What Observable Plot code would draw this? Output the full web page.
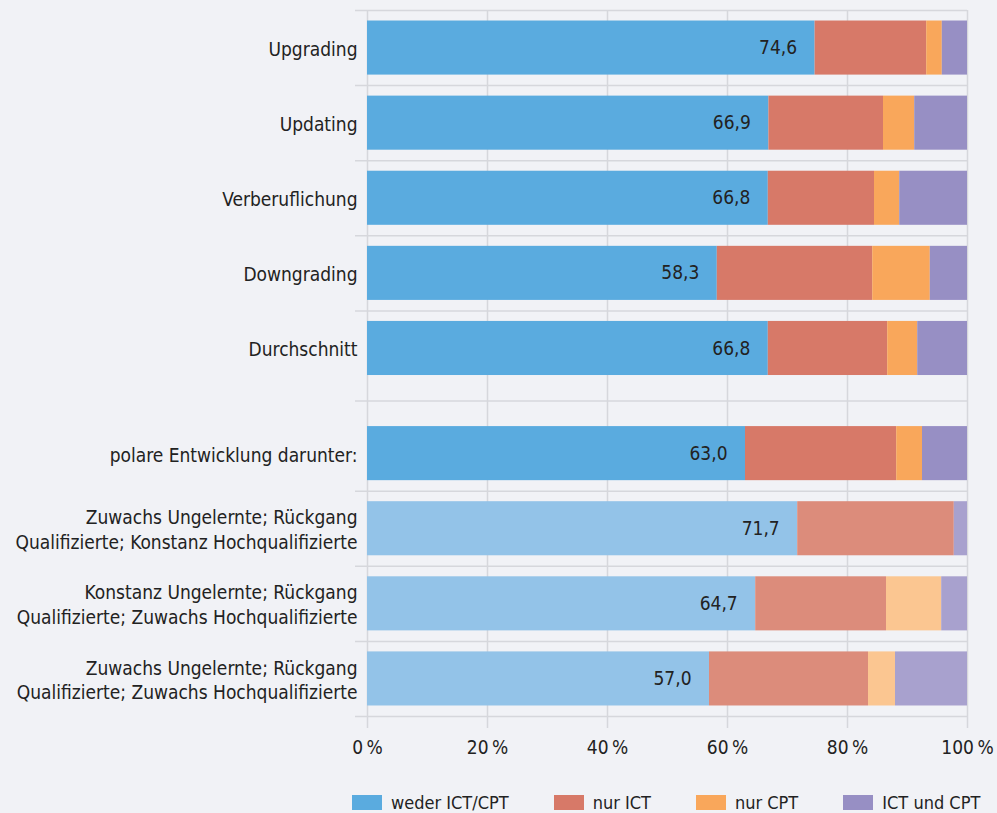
<!DOCTYPE html>
<html><head><meta charset="utf-8">
<script src="https://cdn.jsdelivr.net/npm/d3@7"></script>
<script src="https://cdn.jsdelivr.net/npm/@observablehq/plot@0.6"></script>
<style>
body{margin:0;background:#f1f2f6;}
#legend{margin-left:352px;margin-top:16px;width:645px;white-space:nowrap;}
.lg-swatches{font-family:"Liberation Sans Narrow","DejaVu Sans Condensed","Roboto",sans-serif;font-size:18px;color:#222;flex-wrap:nowrap !important;white-space:nowrap;}
.lg-swatch{margin-right:45px !important;white-space:nowrap;}
.lg-swatch > svg{margin-right:9px !important;}
</style></head><body><div id="chart"></div><div id="legend"></div><script>
const categories = ["Upgrading","Updating","Verberuflichung","Downgrading","Durchschnitt","polare Entwicklung darunter:","Zuwachs Ungelernte; Rückgang\nQualifizierte; Konstanz Hochqualifizierte","Konstanz Ungelernte; Rückgang\nQualifizierte; Zuwachs Hochqualifizierte","Zuwachs Ungelernte; Rückgang\nQualifizierte; Zuwachs Hochqualifizierte"];
const series = ["weder ICT/CPT","nur ICT","nur CPT","ICT und CPT"];
const wederICTCPT = [74.6,66.9,66.8,58.3,66.8,63.0,71.7,64.7,57.0];
const nurICT = [18.6,19.1,17.7,25.9,19.9,25.2,26.1,21.8,26.5];
const nurCPT = [2.6,5.2,4.2,9.6,5.0,4.3,0,9.2,4.5];
const ICTundCPT = [4.2,8.8,11.3,6.2,8.3,7.5,2.2,4.3,12.0];
const xTicks = [0,20,40,60,80,100];

const FONT = '"Liberation Sans Narrow","DejaVu Sans Condensed","Roboto",sans-serif';
const colors = ["#5aabdf","#d77968","#f9a75b","#978fc4"];
const lightColors = ["#93c3e8","#dc8c7b","#fbc691","#a8a1ce"];
const grid = "#d6d7dc";

const values = [wederICTCPT, nurICT, nurCPT, ICTundCPT];
// row positions: a gap after "Durchschnitt"
const pos = categories.map((c, i) => i + (i >= 5 ? 0.4 : 0));
const seps = [pos[0] - 0.5, ...pos.slice(1).map((p, i) => (p + pos[i]) / 2), pos[pos.length - 1] + 0.5];
const half = 0.36;

const keys = [...series, ...series.map(s => s + " (hell)")];
const keyColors = [...colors, ...lightColors];

const rows = [];
categories.forEach((c, i) => {
  let acc = 0;
  series.forEach((s, j) => {
    const v = values[j][i];
    rows.push({cat: c, row: pos[i], series: s, key: i >= 6 ? s + " (hell)" : s, value: v, x1: acc, x2: acc + v});
    acc += v;
  });
});
const firstRows = rows.filter(d => d.series === series[0]);

const chart = Plot.plot({
  width: 997, height: 770,
  marginLeft: 367, marginRight: 30, marginTop: 10, marginBottom: 54,
  style: {background: "#f1f2f6", fontFamily: FONT, fontSize: "19px", color: "#222"},
  x: {domain: [0, 100]},
  y: {domain: [seps[0], seps[seps.length - 1]], reverse: true, axis: null},
  color: {domain: keys, range: keyColors},
  marks: [
    Plot.ruleX(xTicks, {x: d => d, y1: seps[0], y2: seps[seps.length - 1], stroke: grid, strokeWidth: 1.5}),
    Plot.ruleY(seps, {y: d => d, x1: -2, x2: 100, stroke: grid, strokeWidth: 1.5}),
    Plot.rectX(rows.filter(d => d.value > 0), {x1: "x1", x2: "x2", y1: d => d.row - half, y2: d => d.row + half, fill: "key"}),
    Plot.text(firstRows, {x: "value", y: "row", dx: -18, textAnchor: "end", text: d => d.value.toFixed(1).replace(".", ","), fill: "#222", fontSize: 19}),
    Plot.text(categories, {x: 0, y: (d, i) => pos[i], dx: -10, textAnchor: "end", text: d => d, fill: "#222", fontSize: 19, lineHeight: 1.3}),
    Plot.axisX({ticks: xTicks, tickSize: 12, tickPadding: 12, tickFormat: d => d + "\u2009%", stroke: grid, strokeWidth: 1.5, fill: "#222", fontSize: 19})
  ]
});
document.getElementById("chart").append(chart);

const legend = Plot.legend({
  color: {domain: series, range: colors},
  legend: "swatches", swatchWidth: 30, swatchHeight: 15, className: "lg"
});
document.getElementById("legend").append(legend);
</script></body></html>
